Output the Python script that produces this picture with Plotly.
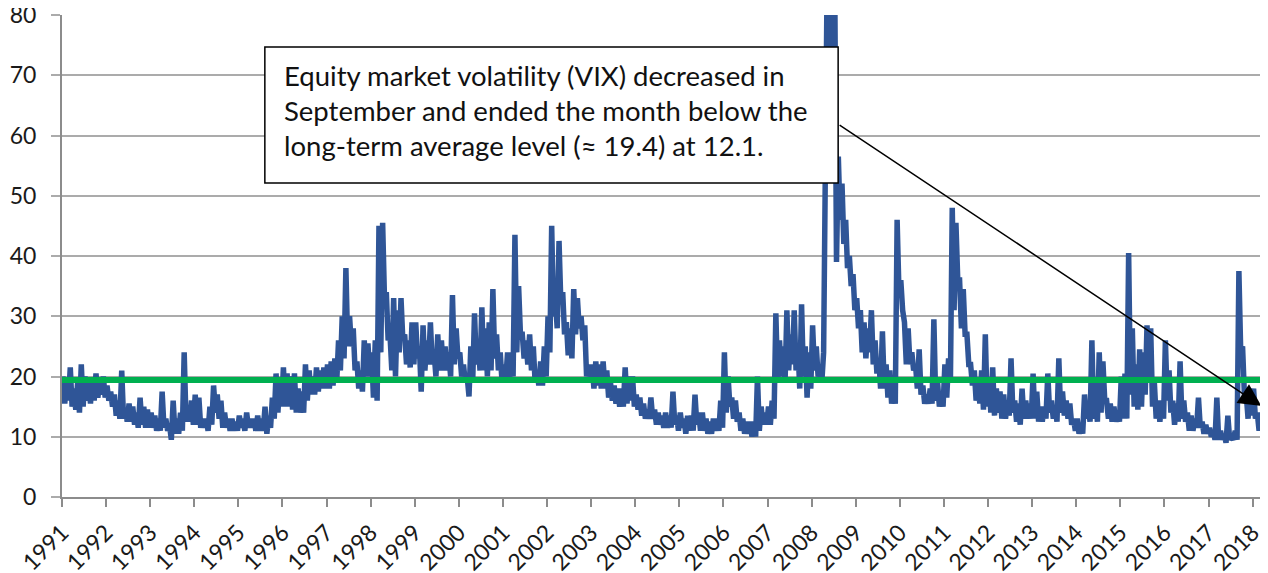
import plotly.graph_objects as go

# VIX: for each (axis) year, 12 monthly highs and lows
hi_1991 = [20, 19.5, 21.5, 18, 19, 22, 20, 19, 19.5, 20.5, 19, 20]
lo_1991 = [15.5, 16, 15, 14.5, 14, 15, 16, 15.5, 16, 16.5, 17, 16.5]
hi_1992 = [18.5, 17.5, 17, 16, 21, 14.5, 15.5, 15, 14, 16.5, 15, 14.5]
lo_1992 = [16, 15, 13.5, 13, 13, 12.5, 12.5, 12, 11.5, 12, 11.5, 11.5]
hi_1993 = [14, 13.5, 13, 17.5, 13, 12, 16, 13, 14, 24, 15, 16]
lo_1993 = [11.5, 11, 11, 11.5, 11, 9.5, 10.5, 10.5, 11, 12.5, 12.5, 12]
hi_1994 = [17, 16.5, 13, 13, 15, 18.5, 17, 16, 14, 13, 13, 12.5]
lo_1994 = [12, 11.5, 11.5, 11, 12, 14, 13, 11.5, 11.5, 11, 11, 11]
hi_1995 = [13.5, 13, 14, 13, 13, 13.5, 13, 15, 13.5, 16.5, 20.5, 19]
lo_1995 = [11.5, 11, 11.5, 11.5, 11, 11, 11, 10.5, 11.5, 13, 14, 15]
hi_1996 = [21.5, 20.5, 20, 20.5, 18, 17.5, 22, 21, 20, 21.5, 21, 21.5]
lo_1996 = [15, 15, 14.5, 14, 14, 14, 16, 17, 17, 17.5, 18, 18]
hi_1997 = [22, 22.5, 23, 26, 30, 38, 30, 28, 22.5, 21, 26, 25.5]
lo_1997 = [18, 18.5, 19, 21, 23, 25, 25, 21, 18, 17.5, 20, 20]
hi_1998 = [24, 26, 45, 45.5, 34, 27, 33, 31, 33, 27, 26, 29]
lo_1998 = [16.5, 16, 24, 33, 26, 21, 20, 24, 26, 22, 21.5, 22]
hi_1999 = [29, 25, 28.5, 26, 29, 24, 27, 26, 25, 24, 33.5, 28]
lo_1999 = [23, 17.5, 21, 22, 22, 20, 21, 21, 21, 20, 22, 23]
hi_2000 = [24, 22, 20, 25, 30.5, 26, 31.5, 28, 29, 34.5, 27, 24]
lo_2000 = [20, 19, 16.7, 19, 22, 21, 21, 20, 21, 23, 21, 19]
hi_2001 = [22, 24, 24, 43.5, 35, 27, 26, 27, 25, 21, 22.5, 25]
lo_2001 = [19.5, 19, 20, 24, 27, 23, 22, 21, 19, 18.5, 18.5, 20]
hi_2002 = [30, 45, 33, 42.5, 34, 29, 28, 34.5, 33, 30, 28.5, 22]
lo_2002 = [24, 30, 28, 32, 27, 23.5, 23, 27, 28, 26, 20, 19]
hi_2003 = [22, 22.5, 22, 22.5, 21, 19, 18.5, 18, 18, 21.5, 20, 20]
lo_2003 = [18, 18.5, 18, 18, 16.5, 16, 15.5, 15, 15, 15.5, 16, 15]
hi_2004 = [17, 16.5, 15.5, 14.5, 16.5, 14.5, 14, 13.5, 14, 13.5, 17.5, 13.5]
lo_2004 = [14.5, 13.5, 13, 13, 13, 12, 12, 11.5, 11.5, 11.5, 12, 11]
hi_2005 = [14, 13, 13.5, 13.5, 17, 14, 14, 13, 12.5, 13, 13, 16]
lo_2005 = [11.5, 10.5, 11, 11, 12, 11, 11, 10.5, 10.5, 11, 11, 11.5]
hi_2006 = [24, 20, 16.5, 16, 14, 13, 12.5, 12.5, 12.5, 20, 15, 14]
lo_2006 = [14, 15, 13, 12.5, 11, 10.5, 10.5, 10, 10, 11, 12, 12]
hi_2007 = [15, 16, 30.5, 26, 25, 31, 27, 31, 25, 32, 25, 24]
lo_2007 = [12, 13, 19, 20, 19, 21, 22, 21, 18, 20, 16.5, 18]
hi_2008 = [28.5, 25, 21, 24, 89, 89, 88, 56.5, 52, 46, 40, 37]
lo_2008 = [21, 20, 19, 50, 60, 62, 39, 46, 42, 38, 35, 31]
hi_2009 = [33, 31, 29, 28, 31, 26, 23, 27.5, 22, 21, 18, 46]
lo_2009 = [28, 24, 23, 24, 22, 20.5, 18, 18, 16.5, 15.5, 15.5, 34]
hi_2010 = [36, 29, 28, 24, 22, 24.5, 18.5, 17, 18, 29.5, 19, 17]
lo_2010 = [31, 22, 22, 21, 18, 17, 15.5, 15.5, 15.5, 16, 15, 15]
hi_2011 = [22, 23, 48, 45.5, 36, 34.5, 27, 22, 21, 19, 21, 27]
lo_2011 = [16.5, 19, 31, 36, 28, 27, 22, 18.5, 16, 15.5, 14.5, 15]
hi_2012 = [19, 21.5, 18, 17.5, 17, 16, 23, 16, 15.5, 18, 16, 15.5]
lo_2012 = [14, 13.5, 14, 13, 13, 13.5, 14, 12.5, 12, 13, 13, 13]
hi_2013 = [20.5, 17.5, 15, 15, 20.5, 16, 15, 23, 17.5, 16, 15.5, 13]
lo_2013 = [13, 12.5, 12.5, 13, 14, 13, 12.5, 14, 13.5, 13, 12, 11]
hi_2014 = [13, 12, 17, 15, 26, 16, 24, 22.5, 16, 15.5, 15, 14]
lo_2014 = [10.5, 10.5, 13, 12.5, 13, 12.5, 14, 16, 13, 12.5, 12.5, 12.5]
hi_2015 = [20, 20.5, 40.5, 28, 22, 24.5, 24, 28.5, 28, 19, 16, 16]
lo_2015 = [13, 13, 17, 15, 14.5, 15, 17, 19, 15, 13, 12.5, 13]
hi_2016 = [26, 21, 16, 15.5, 22.5, 16, 14, 13.5, 13, 16.5, 12.5, 12]
lo_2016 = [16, 14, 12, 12.5, 13, 12.5, 11, 11, 11.5, 11.5, 10.5, 10.5]
hi_2017 = [11.5, 11, 16.5, 11, 10.5, 13.5, 10, 11, 37.5, 25, 17, 17.5]
lo_2017 = [10, 9.5, 9.5, 9.5, 9, 9.5, 9.5, 9.5, 24, 17, 13, 13.5]
hi_2018 = [18, 14, 14, 13.5]
lo_2018 = [13, 11, 12, 12.1]

years = list(range(1991, 2019))
highs = [hi_1991, hi_1992, hi_1993, hi_1994, hi_1995, hi_1996, hi_1997, hi_1998,
         hi_1999, hi_2000, hi_2001, hi_2002, hi_2003, hi_2004, hi_2005, hi_2006,
         hi_2007, hi_2008, hi_2009, hi_2010, hi_2011, hi_2012, hi_2013, hi_2014,
         hi_2015, hi_2016, hi_2017, hi_2018]
lows = [lo_1991, lo_1992, lo_1993, lo_1994, lo_1995, lo_1996, lo_1997, lo_1998,
        lo_1999, lo_2000, lo_2001, lo_2002, lo_2003, lo_2004, lo_2005, lo_2006,
        lo_2007, lo_2008, lo_2009, lo_2010, lo_2011, lo_2012, lo_2013, lo_2014,
        lo_2015, lo_2016, lo_2017, lo_2018]
long_term_avg = 19.4

note_lines = [
    "Equity market volatility (VIX) decreased in",
    "September and ended the month below the",
    "long-term average level (\u2248 19.4) at 12.1.",
]

# daily-looking series: each month goes high then low
x, y = [], []
for yr, hs, ls in zip(years, highs, lows):
    for m, (h, l) in enumerate(zip(hs, ls)):
        x += [yr + (m + 0.25) / 12, yr + (m + 0.75) / 12]
        y += [h, l]

FONT = "Lato"
GRID = "#ABABAB"
AXIS = "#8C8C8C"

fig = go.Figure()
fig.add_trace(go.Scatter(x=x, y=y, mode="lines",
                         line=dict(color="#2F5597", width=5.5), hoverinfo="skip"))
fig.add_trace(go.Scatter(x=[years[0], x[-1] - 0.01], y=[long_term_avg, long_term_avg],
                         mode="lines", line=dict(color="#00B050", width=6), hoverinfo="skip"))

# callout box (drawn over the 2008 spike) + text + arrow
fig.add_shape(type="rect", xref="x", yref="y", x0=1995.6, x1=2008.6, y0=52.1, y1=74.7,
              layer="above", fillcolor="white", line=dict(color="black", width=1.5))
for i, line_txt in enumerate(note_lines):
    fig.add_annotation(x=1995.98, y=69.9 - i * 5.8, xref="x", yref="y", text=line_txt,
                       showarrow=False, xanchor="left", yanchor="middle",
                       font=dict(family=FONT, size=27.5, color="#111"))
fig.add_annotation(x=2018.2, y=15.1, ax=2008.6, ay=61.9, xref="x", yref="y",
                   axref="x", ayref="y", text="", showarrow=True, arrowhead=2,
                   arrowsize=3, arrowwidth=1.5, arrowcolor="black", standoff=0)

# the page body adds an 8px margin, so the figure is 8px smaller on each side
fig.update_layout(
    width=1260, height=565,
    margin=dict(l=54, r=1, t=7, b=76),
    paper_bgcolor="white", plot_bgcolor="white",
    showlegend=False,
    font=dict(family=FONT, size=22, color="#1a1a1a"),
)
fig.update_xaxes(range=[1991, 2018.325], tickmode="array", tickvals=years,
                 ticktext=[str(v) for v in years], tickangle=-45, automargin=False,
                 tickfont=dict(size=23), ticklabelshift=0, ticklabelstandoff=3,
                 ticklabeloverflow="allow", showgrid=False, zeroline=False,
                 showline=True, linecolor=AXIS, linewidth=2,
                 ticks="outside", ticklen=8, tickcolor=AXIS, tickwidth=1.5)
fig.update_yaxes(range=[0, 80], dtick=10, automargin=False,
                 showgrid=True, gridcolor=GRID, gridwidth=1.5,
                 zeroline=False, showline=True, linecolor=AXIS, linewidth=2,
                 ticks="outside", ticklen=9, tickcolor=GRID, tickwidth=1.5,
                 tickfont=dict(size=23), ticklabelstandoff=10,
                 ticklabeloverflow="allow")

fig.write_html("out.html")
